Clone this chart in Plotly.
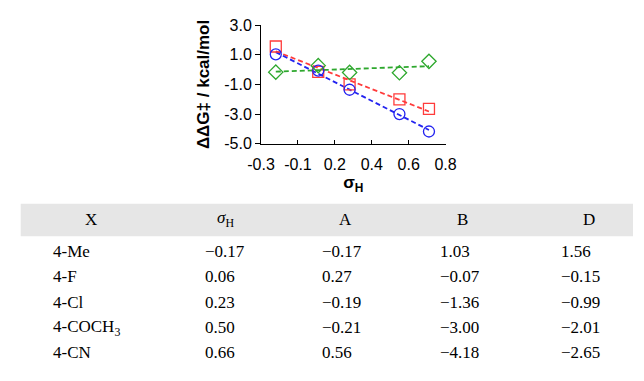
import numpy as np
import plotly.graph_objects as go

# ---- data ----
substituents = ["4-Me", "4-F", "4-Cl", "4-COCH<sub>3</sub>", "4-CN"]
sigma_h = [-0.17, 0.06, 0.23, 0.50, 0.66]
series_a = [-0.17, 0.27, -0.19, -0.21, 0.56]
series_b = [1.03, -0.07, -1.36, -3.00, -4.18]
series_d = [1.56, -0.15, -0.99, -2.01, -2.65]
table_headers = ["X", "<i>σ</i><sub>H</sub>", "A", "B", "D"]
x_tick_vals = [-0.25, -0.05, 0.15, 0.35, 0.55, 0.75]
x_tick_text = ["-0.3", "-0.1", "0.2", "0.4", "0.6", "0.8"]
y_tick_vals = [-5, -3, -1, 1, 3]
y_tick_text = ["-5.0", "-3.0", "-1.0", "1.0", "3.0"]

W, H = 644, 381
fig = go.Figure()

styles = [
    (series_d, "#ff3b3b", "square-open"),
    (series_b, "#2323f0", "circle-open"),
    (series_a, "#2ea82e", "diamond-open"),
]
xs = np.array(sigma_h)
for vals, col, sym in styles:
    slope, icpt = np.polyfit(xs, np.array(vals), 1)
    fx = np.array([xs.min(), xs.max()])
    fig.add_trace(go.Scatter(x=fx, y=slope * fx + icpt, mode="lines",
                             line=dict(color=col, width=1.8, dash="5px,3px"),
                             showlegend=False, hoverinfo="skip"))
for vals, col, sym in styles:
    fig.add_trace(go.Scatter(x=sigma_h, y=vals, mode="markers",
                             marker=dict(symbol=sym, size=11, color=col,
                                         line=dict(color=col, width=1.3)),
                             showlegend=False))

x0, x1 = 257, 449
y0, y1 = 18, 142
fig.update_layout(
    width=W, height=H,
    margin=dict(l=0, r=0, t=0, b=0),
    paper_bgcolor="white", plot_bgcolor="white",
    font=dict(family="Liberation Sans, Arial", color="black"),
    xaxis=dict(domain=[x0 / W, x1 / W], range=[-0.25, 0.75],
               tickvals=x_tick_vals, ticktext=x_tick_text,
               ticks="inside", ticklen=4, tickcolor="black",
               ticklabelstandoff=6,
               showline=True, linecolor="black", linewidth=1,
               showgrid=False, zeroline=False,
               tickfont=dict(size=16, family="Liberation Sans, Arial"),
               title=dict(text="<b>σ<sub>H</sub></b>", font=dict(size=17), standoff=4)),
    yaxis=dict(domain=[1 - y1 / H, 1 - y0 / H], range=[-5, 3],
               tickvals=y_tick_vals, ticktext=y_tick_text,
               ticks="outside", ticklen=5, tickcolor="black",
               showline=True, linecolor="black", linewidth=1,
               showgrid=False, zeroline=False,
               tickfont=dict(size=16, family="Liberation Sans, Arial"),
               title=dict(text="<b>ΔΔG‡ / kcal/mol</b>", font=dict(size=17), standoff=10)),
)

# ---- table ----
fig.add_shape(type="rect", xref="paper", yref="paper",
              x0=7 / W, x1=1, y0=1 - 239 / H, y1=1 - 205 / H,
              fillcolor="#e6e6e6", line=dict(width=0), layer="below")
serif = dict(family="Liberation Serif, Times New Roman", size=17, color="black")
header_x = [80, 220, 345, 467, 598]
for hx, ht in zip(header_x, table_headers):
    fig.add_annotation(x=hx / W, y=1 - 221 / H, xref="paper", yref="paper",
                       text=ht, showarrow=False, font=serif,
                       xanchor="center", yanchor="middle")

col_left = [39, 197, 318, 441, 567]
row_y0, row_dy = 255, 26.5


def fmt(v):
    s = f"{abs(v):.2f}"
    return ("−" + s) if v < 0 else s


for i in range(len(substituents)):
    ry = row_y0 + i * row_dy
    cells = [substituents[i], fmt(sigma_h[i]), fmt(series_a[i]),
             fmt(series_b[i]), fmt(series_d[i])]
    for cx, ct in zip(col_left, cells):
        fig.add_annotation(x=cx / W, y=1 - ry / H, xref="paper", yref="paper",
                           text=ct, showarrow=False, font=serif,
                           xanchor="left", yanchor="middle")

fig.write_html("out.html", config={"displayModeBar": False},
               post_script="document.body.style.margin='0px';")
